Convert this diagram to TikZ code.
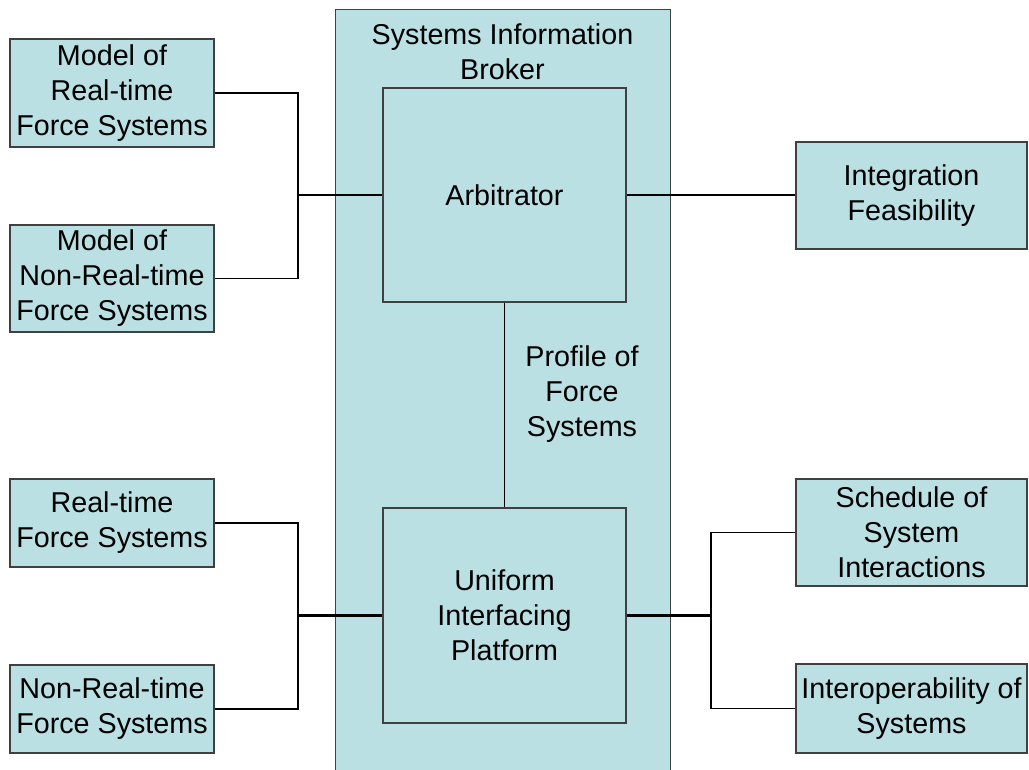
\documentclass[tikz,border=0pt]{standalone}
\usepackage{fontspec}
\setmainfont{Liberation Sans}
\definecolor{boxfill}{RGB}{186,224,227}
\definecolor{boxline}{RGB}{64,64,64}
\begin{document}
\begin{tikzpicture}[x=1pt,y=-1pt,
  box/.style={draw=boxline,fill=boxfill,line width=1.4pt,inner sep=0pt,align=center,
    font=\fontsize{28.7}{35}\selectfont},
  conn/.style={draw=black,line width=1.3pt},
  joint/.style={draw=black,line width=2.2pt},
  lbl/.style={inner sep=0pt,align=center,font=\fontsize{28.7}{35}\selectfont}]
\useasboundingbox (0,0) rectangle (1029,770);
\clip (0,0) rectangle (1029,770);
% outer broker box
\node[box,minimum width=335pt,minimum height=766pt,anchor=north west] (broker) at (335,9) {};
\node[lbl,anchor=north] (brokertitle) at (502.5,24) {Systems Information\\Broker};
% inner boxes
\node[box,minimum width=243pt,minimum height=214pt] (arb) at (504.5,195) {Arbitrator};
\node[box,minimum width=243pt,minimum height=215pt] (uip) at (504.5,615.5) {Uniform\\Interfacing\\Platform};
% left boxes
\node[box,minimum width=204pt,minimum height=108pt] (mrt) at (112,93) {Model of\\Real-time\\Force Systems};
\node[box,minimum width=204pt,minimum height=107pt] (mnrt) at (112,278.5) {Model of\\Non-Real-time\\Force Systems};
\node[box,minimum width=204pt,minimum height=88pt] (rt) at (112,523) {Real-time\\Force Systems};
\node[box,minimum width=204pt,minimum height=88pt] (nrt) at (112,709) {Non-Real-time\\Force Systems};
% right boxes
\node[box,minimum width=231pt,minimum height=107pt] (intf) at (911.5,195.5) {Integration\\Feasibility};
\node[box,minimum width=231pt,minimum height=107pt] (sched) at (911.5,532.5) {Schedule of\\System\\Interactions};
\node[box,minimum width=231pt,minimum height=89pt] (interop) at (911.5,708.5) {Interoperability of\\Systems};
% label
\node[lbl] (profile) at (582,394) {Profile of\\Force\\Systems};
% junctions
\coordinate (jl1) at (298,195);
\coordinate (jl2) at (298,615.5);
\coordinate (jr) at (711,615.5);
% connectors
\draw[conn] (mrt.east) -| (jl1);
\draw[conn] (mnrt.east) -| (jl1);
\draw[joint] (jl1) -- (arb.west);
\draw[conn] (arb.east) -- (arb.east -| intf.west);
\draw[conn] (arb.south) -- (uip.north);
\draw[conn] (rt.east) -| (jl2);
\draw[conn] (nrt.east) -| (jl2);
\draw[joint] (jl2) -- (uip.west);
\draw[joint] (uip.east) -- (jr);
\draw[conn] (sched.west) -| (jr);
\draw[conn] (interop.west) -| (jr);
\end{tikzpicture}
\end{document}
